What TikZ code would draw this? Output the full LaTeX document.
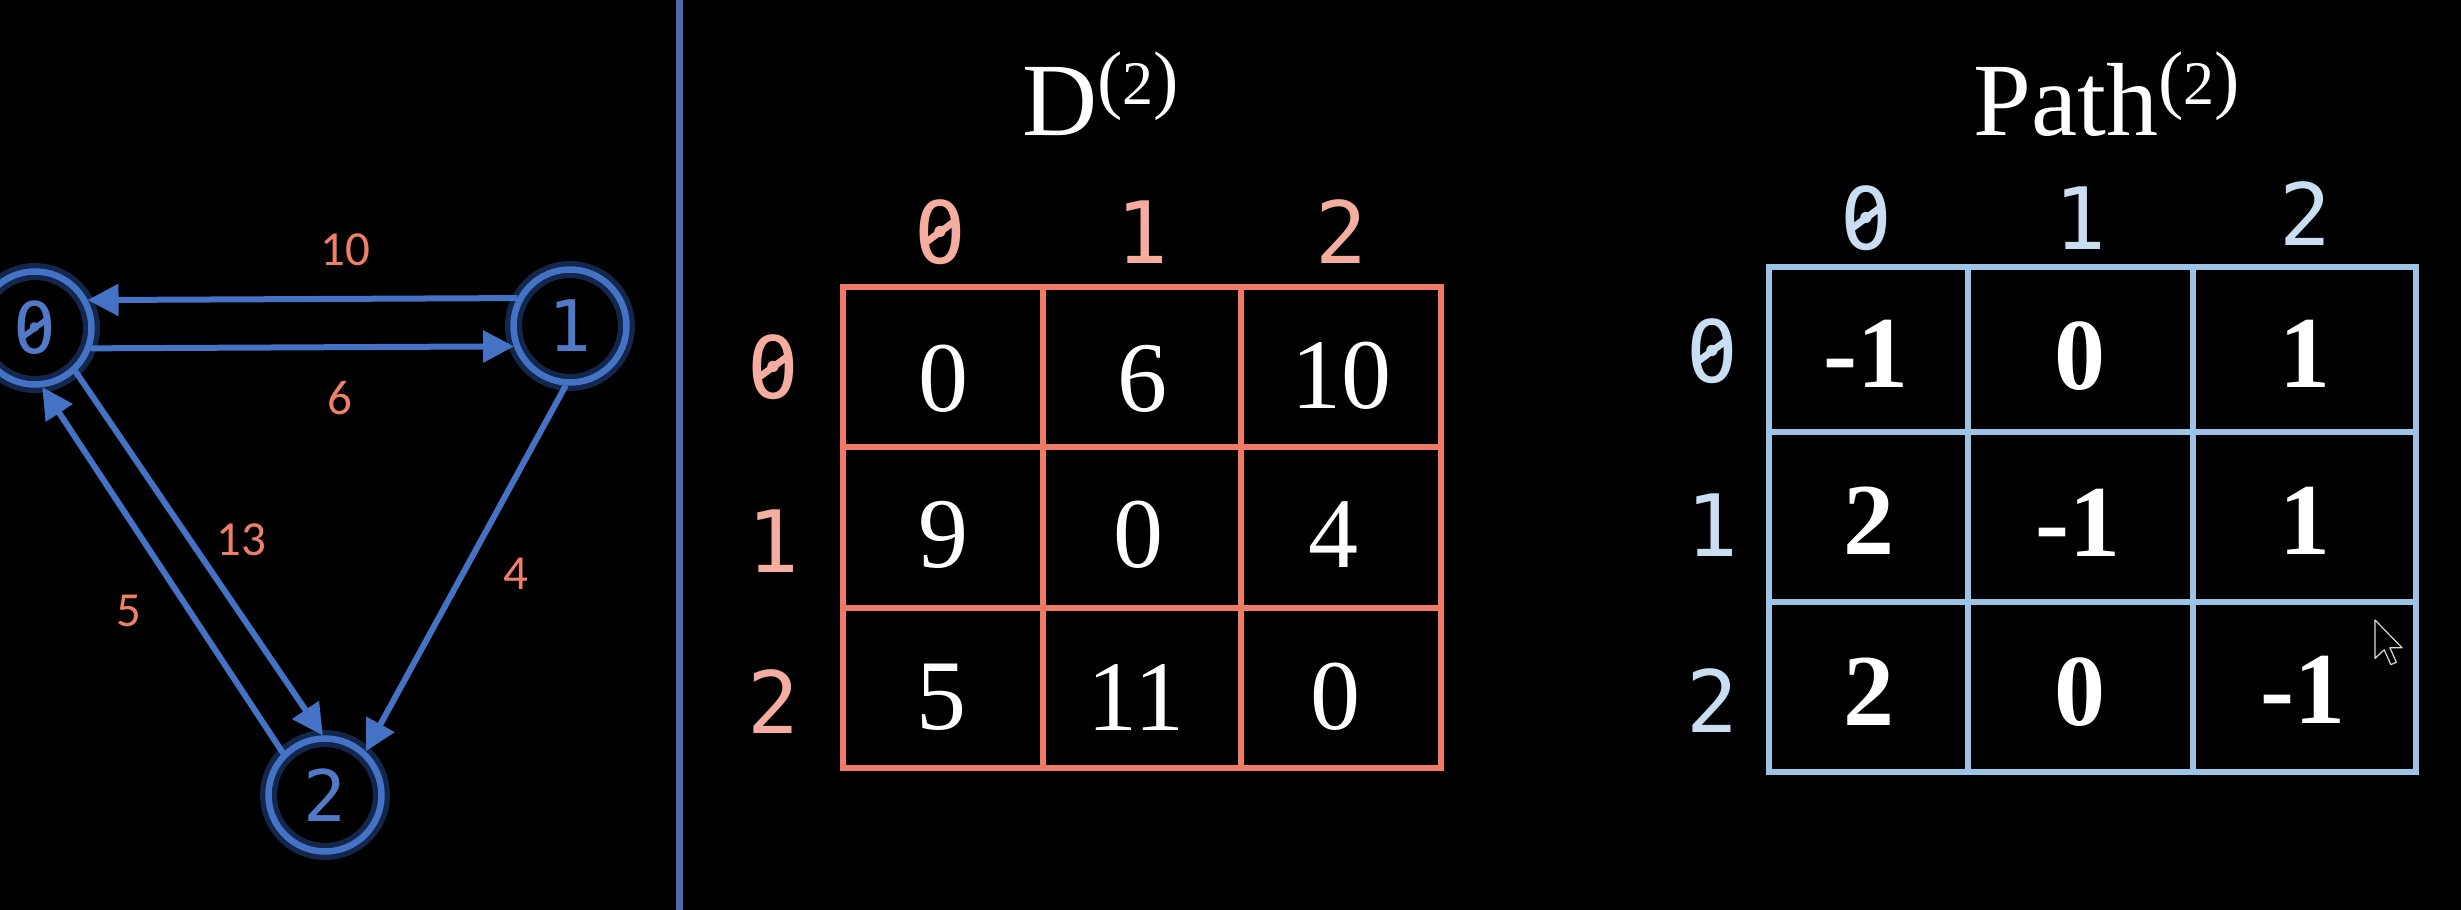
\documentclass[tikz,border=0pt]{standalone}
\usepackage{fontspec}
\setmainfont{Liberation Serif}
\newfontfamily\monof{DejaVu Sans Mono}
\newfontfamily\labf{Carlito}
\usetikzlibrary{arrows.meta,calc}
\definecolor{gblue}{HTML}{4472C4}
\definecolor{glowc}{HTML}{3D74E8}
\definecolor{ntext}{HTML}{5079C8}
\definecolor{elabc}{HTML}{F07F68}
\definecolor{dgridc}{HTML}{F07A66}
\definecolor{dheadc}{HTML}{F5ADA0}
\definecolor{pgridc}{HTML}{9DC3E6}
\definecolor{pheadc}{HTML}{C9DEF2}
\definecolor{divc}{HTML}{4B69AB}
\tikzset{
  vtx/.style={circle, draw=gblue, line width=6.5pt, minimum size=113pt, inner sep=0pt, outer sep=3pt,
    text=ntext, font=\monof\fontsize{71}{71}\selectfont,
    preaction={draw=glowc, line width=17pt, draw opacity=0.33}},
  edge/.style={draw=gblue, line width=6pt, -{Triangle[length=31pt,width=31pt]}},
  elab/.style={text=elabc, font=\labf\fontsize{49}{49}\selectfont, inner sep=0pt},
  dgrid/.style={draw=dgridc, line width=6pt},
  pgrid/.style={draw=pgridc, line width=5.5pt},
  dhead/.style={text=dheadc, font=\monof\fontsize{86}{86}\selectfont, inner sep=0pt},
  phead/.style={text=pheadc, font=\monof\fontsize{86}{86}\selectfont, inner sep=0pt},
  dval/.style={text=white, font=\fontsize{100}{100}\selectfont, inner sep=0pt},
  pval/.style={text=white, font=\bfseries\fontsize{102}{102}\selectfont, inner sep=0pt},
  title/.style={text=white, font=\fontsize{104}{104}\selectfont, inner sep=0pt, anchor=base west}
}
\newcommand{\supparen}{\raisebox{31pt}{\fontsize{76}{76}\selectfont(\fontsize{62}{62}\selectfont 2\fontsize{76}{76}\selectfont)}}
% slash through a monospaced zero: node name, colour, font size
\newcommand{\slz}[3]{\draw[draw=#2, line width={0.08pt*#3}, line cap=round]
  ($(#1)+(-0.15*#3,0.11*#3)$) -- ($(#1)+(0.15*#3,-0.11*#3)$);}
\begin{document}
\begin{tikzpicture}[x=1pt,y=-1pt]
\fill[black] (0,0) rectangle (2461,910);
\useasboundingbox (0,0) rectangle (2461,910);
\clip (0,0) rectangle (2461,910);
% divider
\coordinate (dvt) at (679,0);
\coordinate (dvb) at (679,910);
\draw[divc, line width=7pt] (dvt) -- (dvb);
% graph
\node[vtx] (n0) at (35,328) {0};
\node[vtx] (n1) at (570,326) {1};
\node[vtx] (n2) at (325,795) {2};
\slz{n0}{ntext}{71}
\draw[edge] (n1.152) -- (n0.28);
\draw[edge] (n0.-20) -- (n1.200);
\draw[edge] (n0.-47) -- (n2.92);
\draw[edge] (n2.135) -- (n0.-83);
\draw[edge] (n1.-94) -- (n2.47);
\node[elab] (l10) at (345,250) {10};
\node[elab] (l6) at (340,398) {6};
\node[elab] (l13) at (241,540) {13};
\node[elab] (l5) at (129,611) {5};
\node[elab] (l4) at (516,574) {4};
% D matrix
\node[title] (dt) at (1022,135) {D\supparen};
\draw[dgrid] (843,287) rectangle (1441,768);
\draw[dgrid] (1043,287) -- (1043,768) (1241,287) -- (1241,768)
             (843,447) -- (1441,447) (843,608) -- (1441,608);
\node[dhead] (dc0) at (940,232) {0};
\node[dhead] (dc1) at (1142,232) {1};
\node[dhead] (dc2) at (1341,232) {2};
\node[dhead] (dr0) at (773,367) {0};
\node[dhead] (dr1) at (773,541) {1};
\node[dhead] (dr2) at (773,702) {2};
\slz{dc0}{dheadc}{86}
\slz{dr0}{dheadc}{86}
\node[dval] (d00) at (943,379) {0};
\node[dval] (d01) at (1142,379) {6};
\node[dval] (d02) at (1341,376) {10};
\node[dval] (d10) at (943,535) {9};
\node[dval] (d11) at (1138,535) {0};
\node[dval] (d12) at (1333,535) {4};
\node[dval] (d20) at (941,697) {5};
\node[dval] (d21) at (1136,697) {11};
\node[dval] (d22) at (1335,697) {0};
% Path matrix
\node[title] (pt) at (1973,135) {Path\supparen};
\draw[pgrid] (1769,267) rectangle (2416,772);
\draw[pgrid] (1968,267) -- (1968,772) (2193,267) -- (2193,772)
             (1769,432) -- (2416,432) (1769,602) -- (2416,602);
\node[phead] (pc0) at (1866,218) {0};
\node[phead] (pc1) at (2080,218) {1};
\node[phead] (pc2) at (2305,214) {2};
\node[phead] (pr0) at (1712,351) {0};
\node[phead] (pr1) at (1712,525) {1};
\node[phead] (pr2) at (1712,701) {2};
\slz{pc0}{pheadc}{86}
\slz{pr0}{pheadc}{86}
\node[pval] (p00) at (1866,354) {-1};
\node[pval] (p01) at (2080,356) {0};
\node[pval] (p02) at (2305,354) {1};
\node[pval] (p10) at (1869,521) {2};
\node[pval] (p11) at (2078,523) {-1};
\node[pval] (p12) at (2305,521) {1};
\node[pval] (p20) at (1869,692) {2};
\node[pval] (p21) at (2080,692) {0};
\node[pval] (p22) at (2303,690) {-1};
% mouse pointer
\begin{scope}[shift={(2375,620)}, scale=2.4]
\draw[white!85!black, line width=1.2pt, fill=black, line join=round]
  (0,0) -- (0,16) -- (3.8,12.4) -- (6.6,18.6) -- (8.9,17.6) -- (6.2,11.6) -- (11.3,11.6) -- cycle;
\end{scope}
\end{tikzpicture}
\end{document}
